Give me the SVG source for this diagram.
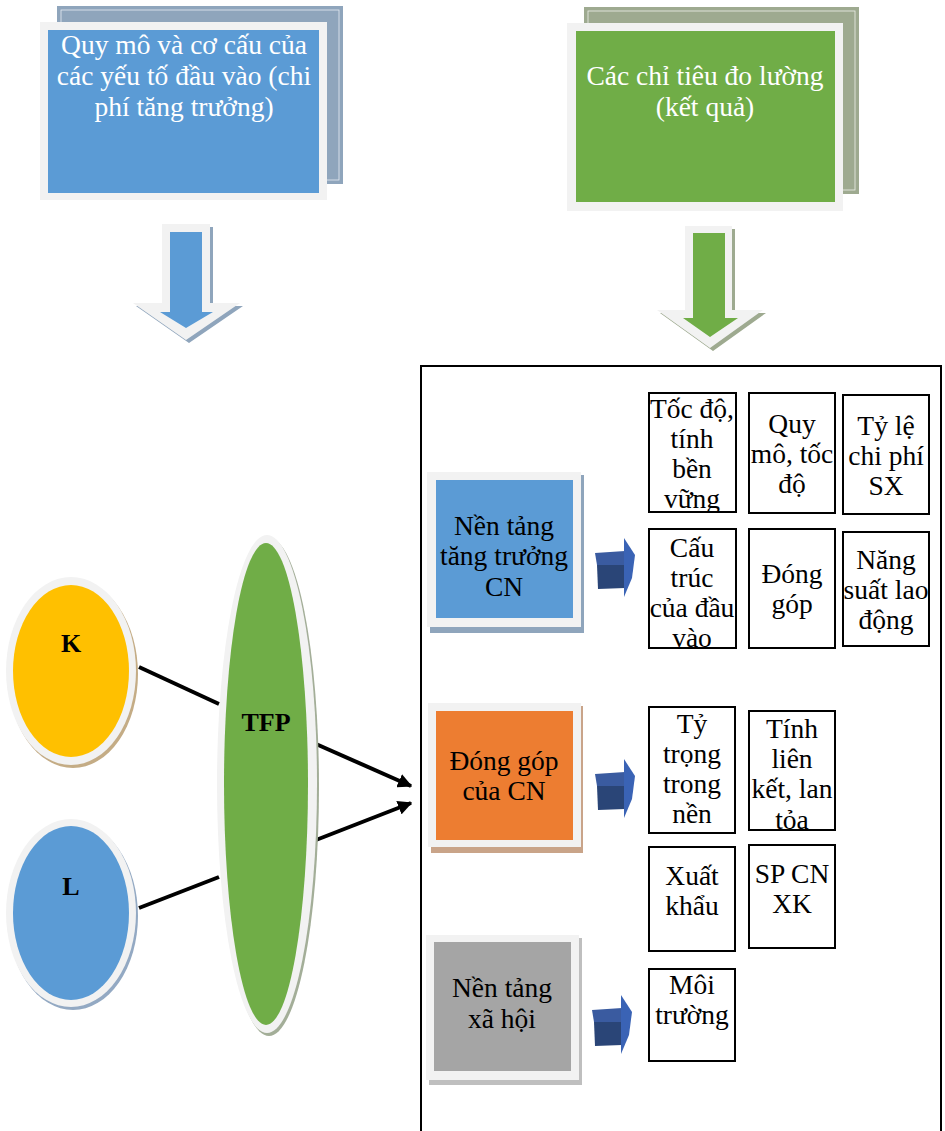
<svg xmlns="http://www.w3.org/2000/svg" width="945" height="1131" viewBox="0 0 945 1131">
<style>
text{font-family:"Liberation Serif","Times New Roman",serif;font-size:27.5px;text-anchor:middle;fill:#000}
.w{fill:#fff}
.b{font-weight:bold;font-size:26px}
.frame{fill:#F2F2F2}
.box{fill:#fff;stroke:#000;stroke-width:2}
.conn{stroke:#000;stroke-width:4;fill:none}
</style>
<defs>
<marker id="ah" viewBox="0 0 10 10" refX="9" refY="5" markerWidth="3.6" markerHeight="3.6" orient="auto">
<path d="M0,0 L10,5 L0,10 z" fill="#000"/>
</marker>
<g id="blk">
<polygon points="1,15 31,13 31,27 3,27" fill="#3A5BA0"/>
<polygon points="3,27 31,27 31,50 4,51" fill="#2A4577"/>
<polygon points="30,0 41,17 38,40 30,59 30,13" fill="#3A63B5"/>
</g>
<clipPath id="c1"><rect x="649" y="393" width="87" height="119"/></clipPath>
<clipPath id="c4"><rect x="649" y="529" width="87" height="119"/></clipPath>
<clipPath id="c7"><rect x="649" y="707" width="86" height="126"/></clipPath>
<clipPath id="c8"><rect x="749" y="711" width="86" height="119"/></clipPath>
</defs>

<!-- top left box -->
<g id="inputs">
<rect x="57" y="6" width="286" height="178" fill="#8FA5BC"/>
<rect x="61" y="10" width="278" height="170" fill="none" stroke="#E6ECF2" stroke-width="0.8"/>
<rect class="frame" x="40" y="22" width="287" height="178"/>
<rect x="48" y="30" width="271" height="163" fill="#5B9BD5"/>
<text class="w" x="184" y="54">Quy mô và cơ cấu của</text>
<text class="w" x="184" y="85">các yếu tố đầu vào (chi</text>
<text class="w" x="184" y="116">phí tăng trưởng)</text>
</g>

<!-- top right box -->
<g id="results">
<rect x="584" y="7" width="275" height="187" fill="#9EAA90"/>
<rect x="588" y="11" width="267" height="179" fill="none" stroke="#EEF1EA" stroke-width="0.8"/>
<rect class="frame" x="567" y="23" width="276" height="188"/>
<rect x="576" y="31" width="259" height="171" fill="#70AD47"/>
<text class="w" x="705" y="85">Các chỉ tiêu đo lường</text>
<text class="w" x="705" y="116">(kết quả)</text>
</g>

<!-- down arrows -->
<g id="arrow-blue">
<polygon points="165,227 213,227 213,306 243,306 189,343 136,306 165,306" fill="#8FA5BC"/>
<polygon points="162,224 210,224 210,303 240,303 186,340 133,303 162,303" fill="#F2F2F2"/>
<polygon points="170,232 202,232 202,312 213,312 186,328 160,312 170,312" fill="#5B9BD5"/>
</g>
<g id="arrow-green">
<polygon points="688,229 735,229 735,313 766,313 713,351 660,313 688,313" fill="#9EAA90"/>
<polygon points="685,226 732,226 732,310 763,310 710,348 657,310 685,310" fill="#F2F2F2"/>
<polygon points="693,233 725,233 725,318 738,318 710,337 683,318 693,318" fill="#70AD47"/>
</g>

<!-- container -->
<g id="container">
<rect x="421" y="366" width="520" height="780" fill="none" stroke="#000" stroke-width="2"/>
</g>

<!-- connectors -->
<g id="connectors">
<line class="conn" x1="139" y1="667" x2="219" y2="704"/>
<line class="conn" x1="139" y1="908" x2="219" y2="877"/>
<line class="conn" x1="316" y1="744" x2="411" y2="786" marker-end="url(#ah)"/>
<line class="conn" x1="316" y1="840" x2="411" y2="803" marker-end="url(#ah)"/>
</g>

<!-- K -->
<g id="K">
<ellipse cx="73" cy="674" rx="65" ry="94" fill="#C4AC85"/>
<ellipse cx="71" cy="671" rx="65" ry="94" fill="#F2F2F2"/>
<ellipse cx="71" cy="671" rx="58" ry="86" fill="#FFC000"/>
<text class="b" x="71" y="652">K</text>
</g>
<!-- L -->
<g id="L">
<ellipse cx="73" cy="916" rx="65" ry="94" fill="#93A9C3"/>
<ellipse cx="71" cy="913" rx="65" ry="94" fill="#F2F2F2"/>
<ellipse cx="71" cy="913" rx="58" ry="87" fill="#5B9BD5"/>
<text class="b" x="71" y="895">L</text>
</g>
<!-- TFP -->
<g id="TFP">
<ellipse cx="269" cy="787" rx="50" ry="249" fill="#A3AE98"/>
<ellipse cx="267" cy="784" rx="50" ry="249" fill="#F2F2F2"/>
<ellipse cx="266" cy="784" rx="42" ry="241" fill="#70AD47"/>
<text class="b" x="266" y="731">TFP</text>
</g>

<!-- left category boxes -->
<g id="nen-tang-tang-truong">
<rect x="430" y="475" width="154" height="158" fill="#8FA5BC"/>
<rect class="frame" x="427" y="472" width="154" height="155"/>
<rect x="436" y="480" width="137" height="138" fill="#5B9BD5"/>
<text x="504" y="535">Nền tảng</text>
<text x="504" y="565">tăng trưởng</text>
<text x="504" y="596">CN</text>
</g>
<g id="dong-gop">
<rect x="431" y="706" width="152" height="147" fill="#C9A489"/>
<rect class="frame" x="428" y="703" width="153" height="144"/>
<rect x="436" y="711" width="137" height="129" fill="#ED7D31"/>
<text x="504" y="770">Đóng góp</text>
<text x="504" y="800">của CN</text>
</g>
<g id="nen-tang-xa-hoi">
<rect x="429" y="938" width="153" height="147" fill="#BFBFBF"/>
<rect class="frame" x="426" y="935" width="153" height="145"/>
<rect x="434" y="942" width="137" height="129" fill="#A5A5A5"/>
<text x="502" y="997">Nền tảng</text>
<text x="502" y="1028">xã hội</text>
</g>

<!-- block arrows -->
<g id="blk1"><use href="#blk" x="594" y="538"/></g>
<g id="blk2"><use href="#blk" x="594" y="759"/></g>
<g id="blk3"><use href="#blk" x="591" y="995"/></g>

<!-- indicator boxes -->
<g id="b1">
<rect class="box" x="649" y="393" width="87" height="119"/>
<g clip-path="url(#c1)">
<text x="692" y="418">Tốc độ,</text>
<text x="692" y="448">tính</text>
<text x="692" y="478">bền</text>
<text x="692" y="508">vững</text>
</g>
</g>
<g id="b2">
<rect class="box" x="749" y="393" width="86" height="120"/>
<text x="792" y="433">Quy</text>
<text x="792" y="463">mô, tốc</text>
<text x="792" y="493">độ</text>
</g>
<g id="b3">
<rect class="box" x="843" y="395" width="86" height="119"/>
<text x="886" y="435">Tỷ lệ</text>
<text x="886" y="465">chi phí</text>
<text x="886" y="495">SX</text>
</g>
<g id="b4">
<rect class="box" x="649" y="529" width="87" height="119"/>
<g clip-path="url(#c4)">
<text x="692" y="557">Cấu</text>
<text x="692" y="587">trúc</text>
<text x="692" y="617">của đầu</text>
<text x="692" y="647">vào</text>
</g>
</g>
<g id="b5">
<rect class="box" x="749" y="529" width="86" height="119"/>
<text x="792" y="583">Đóng</text>
<text x="792" y="613">góp</text>
</g>
<g id="b6">
<rect class="box" x="843" y="532" width="86" height="114"/>
<text x="886" y="569">Năng</text>
<text x="886" y="599">suất lao</text>
<text x="886" y="629">động</text>
</g>
<g id="b7">
<rect class="box" x="649" y="707" width="86" height="126"/>
<g clip-path="url(#c7)">
<text x="692" y="733">Tỷ</text>
<text x="692" y="763">trọng</text>
<text x="692" y="793">trong</text>
<text x="692" y="823">nền</text>
</g>
</g>
<g id="b8">
<rect class="box" x="749" y="711" width="86" height="119"/>
<g clip-path="url(#c8)">
<text x="792" y="738">Tính</text>
<text x="792" y="768">liên</text>
<text x="792" y="798">kết, lan</text>
<text x="792" y="829">tỏa</text>
</g>
</g>
<g id="b9">
<rect class="box" x="649" y="847" width="86" height="104"/>
<text x="692" y="885">Xuất</text>
<text x="692" y="915">khẩu</text>
</g>
<g id="b10">
<rect class="box" x="749" y="845" width="86" height="103"/>
<text x="792" y="883">SP CN</text>
<text x="792" y="913">XK</text>
</g>
<g id="b11">
<rect class="box" x="649" y="969" width="86" height="92"/>
<text x="692" y="994">Môi</text>
<text x="692" y="1024">trường</text>
</g>
</svg>
